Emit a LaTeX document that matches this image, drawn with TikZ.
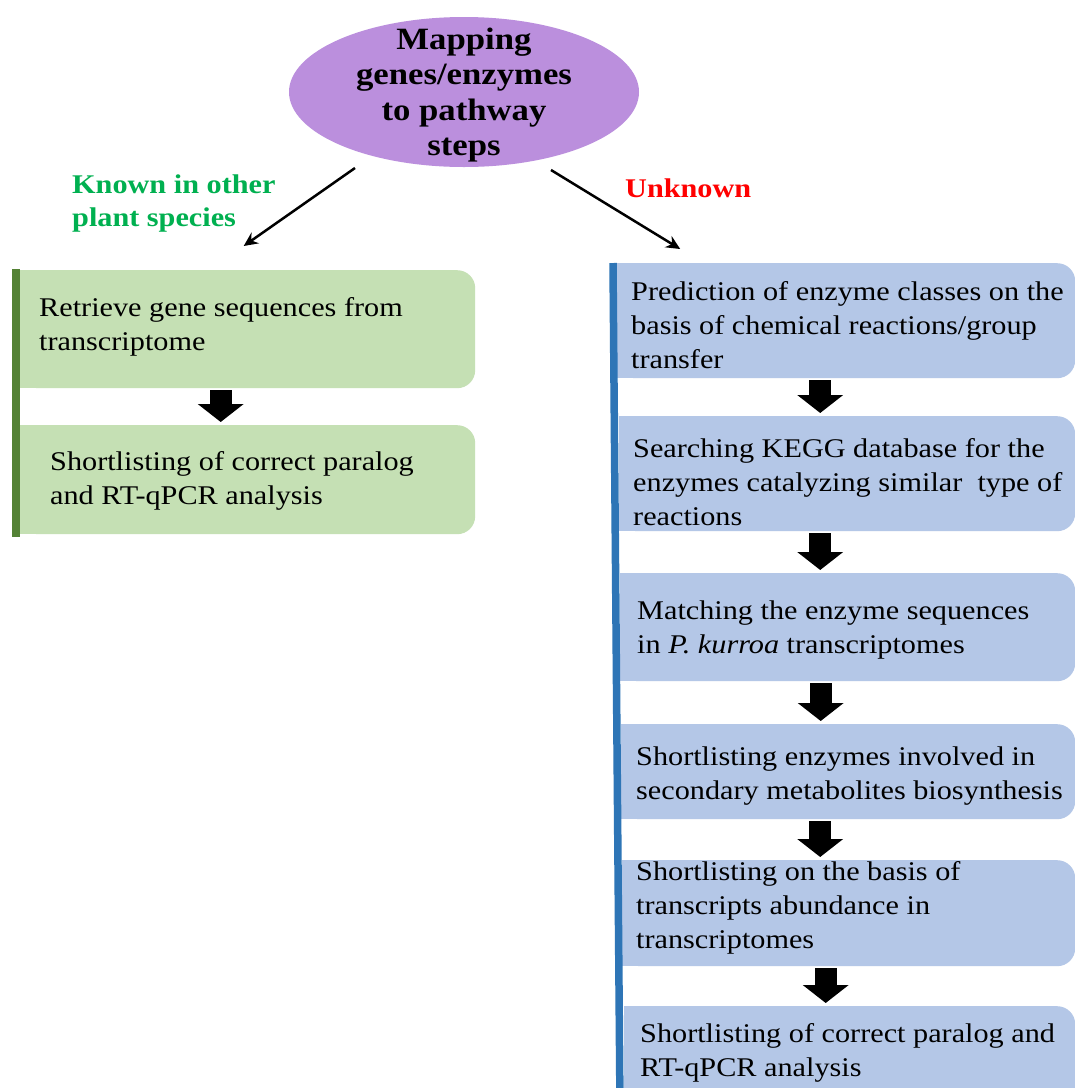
\documentclass[tikz,border=0pt]{standalone}
\usepackage{fontspec}
\setmainfont[FakeStretch=1.12]{Liberation Serif}
\usetikzlibrary{arrows.meta,shapes.geometric,calc}
\definecolor{purp}{HTML}{BB8FDD}
\definecolor{gboxc}{HTML}{C5E0B4}
\definecolor{gbarc}{HTML}{548235}
\definecolor{bboxc}{HTML}{B4C7E7}
\definecolor{bbarc}{HTML}{2E75B6}
\definecolor{kgreen}{HTML}{00B050}
\definecolor{ured}{HTML}{FF0000}
\begin{document}
\begin{tikzpicture}[x=1pt,y=-1pt,
  boxst/.style={rectangle, rounded corners=18pt, anchor=north west, inner sep=0pt, draw=none},
  gbx/.style={boxst, fill=gboxc},
  bbx/.style={boxst, fill=bboxc},
  txt/.style={font=\fontsize{27}{34}\selectfont, align=left, inner sep=0pt, anchor=west},
  lab/.style={font=\bfseries\fontsize{27}{33}\selectfont, align=left, inner sep=0pt, anchor=west},
  barrow/.style={line width=22pt, -{Triangle[width=45pt,length=18pt]}, shorten <=2pt, shorten >=3pt},
  thinarr/.style={line width=2.5pt, -{Stealth[length=14pt,width=13pt]}},
  sidebar/.style={line width=7.5pt}
]
\useasboundingbox (0,0) rectangle (1075,1088);
\fill[white] (0,0) rectangle (1075,1088);

% title ellipse
\node[ellipse, fill=purp, minimum width=350pt, minimum height=150pt, inner sep=0pt] (E) at (464,92) {};
\node[font=\bfseries\fontsize{31}{35.3}\selectfont, align=center, inner sep=0pt] (Et) at ([shift={(0,3)}]E.center) {Mapping\\genes/enzymes\\to pathway\\steps};

% left column boxes
\node[gbx, minimum width=455pt, minimum height=118pt] (L1) at (20,270) {};
\node[gbx, minimum width=455pt, minimum height=109pt] (L2) at (20,425) {};
\fill[gboxc] (L1.north west) rectangle ([xshift=22pt]L1.south west);
\fill[gboxc] (L2.north west) rectangle ([xshift=22pt]L2.south west);

% right column boxes
\node[bbx, minimum width=458pt, minimum height=115pt] (R1) at (617,263) {};
\node[bbx, minimum width=456pt, minimum height=115pt] (R2) at (619,416) {};
\node[bbx, minimum width=455pt, minimum height=108pt] (R3) at (620,573) {};
\node[bbx, minimum width=454pt, minimum height=95pt] (R4) at (621,724) {};
\node[bbx, minimum width=453pt, minimum height=106pt] (R5) at (622,860) {};
\node[bbx, minimum width=451pt, minimum height=100pt] (R6) at (624,1006) {};
\foreach \b in {R1,R2,R3,R4,R5,R6}{
  \fill[bboxc] (\b.north west) rectangle ([xshift=22pt]\b.south west);
}

% side bars
\draw[sidebar, gbarc] ([shift={(-4,-1)}]L1.north west) -- ([shift={(-4,3)}]L2.south west);
\draw[sidebar, bbarc] ([shift={(-4,0)}]R1.north west) -- ([shift={(-4,0)}]R6.south west);

% texts
\node[txt] (tL1) at (39,327) {Retrieve gene sequences from\\transcriptome};
\node[txt] (tL2) at (50,481) {Shortlisting of correct paralog\\and RT-qPCR analysis};
\node[txt] (tR1) at (631,324.7) {Prediction of enzyme classes on the\\basis of chemical reactions/group\\transfer};
\node[txt] (tR2) at (633,481.7) {Searching KEGG database for the\\enzymes catalyzing similar\ \ type of\\reactions};
\node[txt] (tR3) at (637,630) {Matching the enzyme sequences\\in \textit{P. kurroa} transcriptomes};
\node[txt] (tR4) at (636,776) {Shortlisting enzymes involved in\\secondary metabolites biosynthesis};
\node[txt] (tR5) at (636,908) {Shortlisting on the basis of\\transcripts abundance in\\transcriptomes};
\node[txt] (tR6) at (640,1053) {Shortlisting of correct paralog and\\RT-qPCR analysis};

% branch labels
\node[lab, text=kgreen] (kn) at (72,203) {Known in other\\plant species};
\node[lab, text=ured] (un) at (625,188) {Unknown};

% thin arrows
\draw[thinarr] ([shift={(-109,76)}]E.center) -- ([shift={(-4,-24)}]L1.north);
\draw[thinarr] ([shift={(87,78)}]E.center) -- ([shift={(-166,-14)}]R1.north);

% block arrows
\coordinate (aL) at ([xshift=-27pt]L1.south);
\draw[barrow] (aL) -- (aL |- L2.north);
\coordinate (a1) at ([xshift=-26pt]R1.south);
\draw[barrow] (a1) -- (a1 |- R2.north);
\coordinate (a2) at ([xshift=-27pt]R2.south);
\draw[barrow] (a2) -- (a2 |- R3.north);
\coordinate (a3) at ([xshift=-27pt]R3.south);
\draw[barrow] (a3) -- (a3 |- R4.north);
\coordinate (a4) at ([xshift=-28pt]R4.south);
\draw[barrow] (a4) -- (a4 |- R5.north);
\coordinate (a5) at ([xshift=-23pt]R5.south);
\draw[barrow] (a5) -- (a5 |- R6.north);
\end{tikzpicture}
\end{document}
